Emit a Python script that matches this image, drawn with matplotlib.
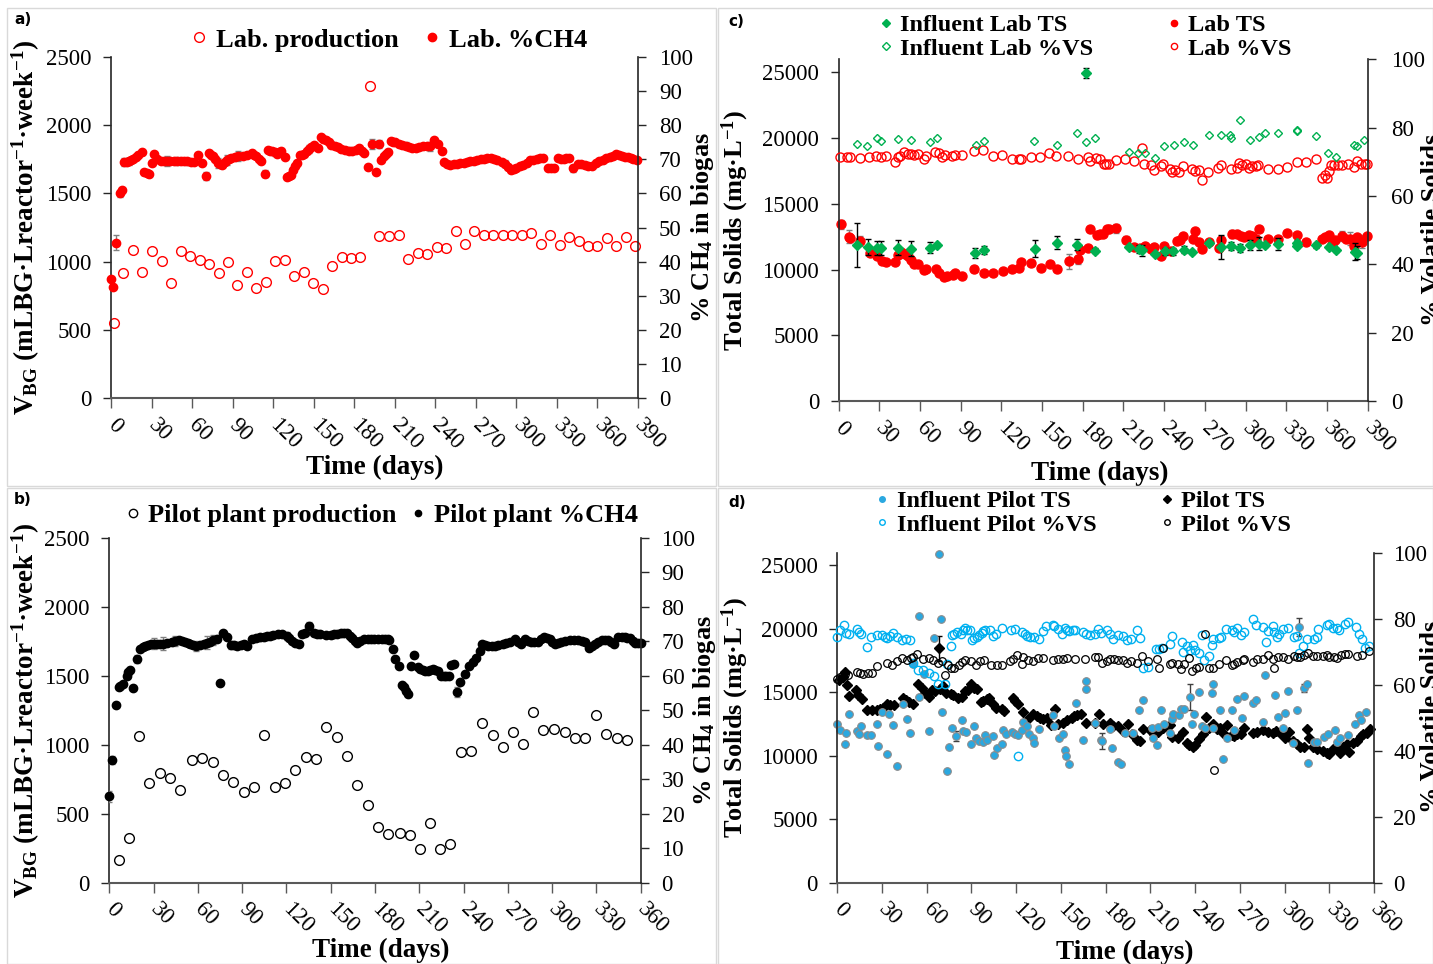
import matplotlib
matplotlib.use('Agg')
import matplotlib.pyplot as plt
from matplotlib.lines import Line2D
from matplotlib.patches import Rectangle
import numpy as np

plt.rcParams['font.family'] = ['Liberation Serif', 'DejaVu Serif']
plt.rcParams['mathtext.fontset'] = 'custom'
plt.rcParams['mathtext.rm'] = 'Liberation Serif:bold'
plt.rcParams['mathtext.bf'] = 'Liberation Serif:bold'
plt.rcParams['mathtext.it'] = 'Liberation Serif:bold'
plt.rcParams['mathtext.default'] = 'bf'

# ---------------- Panel a: lab biogas ----------------
lab_prod_day = [2.4, 9.1, 16.5, 23.3, 30.4, 37.4, 44.5, 51.6, 58.4, 65.5, 72.5, 79.6, 86.7, 93.5, 100.5,
                107.6, 114.4, 121.5, 128.5, 135.6, 142.7, 149.8, 156.9, 163.6, 170.7, 177.8, 184.5, 191.6,
                198.7, 205.8, 212.9, 220, 227, 234, 241, 248, 255, 262, 269, 276, 283, 290, 297, 304, 311,
                318, 325, 332, 339, 346, 353, 360, 367, 374, 381, 388]
lab_prod = [550, 916, 1087, 926, 1075, 1002, 843, 1075, 1038, 1012, 982, 916, 997, 831, 926,
            804, 853, 1007, 1012, 897, 926, 843, 799, 965, 1031, 1026, 1036, 2290,
            1188, 1188, 1197, 1021, 1065, 1058, 1107, 1102, 1227, 1127, 1227, 1193, 1193, 1197, 1193, 1197, 1212,
            1131, 1193, 1122, 1183, 1151, 1112, 1117, 1171, 1117, 1183, 1112]

lab_ch4_day = [0, 1.7, 3.7, 7, 8.4, 9.8, 11.5, 13, 14.8, 16.5, 18.3, 20, 22.6, 24.6, 26.3, 28, 30, 32, 34,
               36.8, 39, 41.5, 44, 46.5, 49, 51.5, 54, 56.5, 59, 61.7, 64.4, 67, 70, 72.5, 74, 75.6, 77.3,
               79, 80.5, 82, 84, 85.7, 87.5, 89, 91.5, 94, 97.5, 101, 104, 106, 107.6, 109.5, 111, 114,
               116, 117.8, 119.4, 121, 122.8, 124.5, 126, 128.5, 130, 131.5, 133, 135, 136.5, 138, 139.7,
               141.5, 143, 145, 146.4, 148, 150, 153, 155.5, 157, 159, 161, 163, 165.5, 168, 170.5, 173,
               176, 178.5, 181, 183.5, 185.5, 187, 190, 193, 196, 198, 200, 202, 203.5, 205, 207, 209,
               210.5, 213, 215.6, 218, 220.6, 223, 225.7, 228, 230.8, 233.5, 236, 239, 242, 244.6, 246.6,
               249, 251, 253.5, 256, 258.5, 261, 263.5, 266, 268.5, 271, 273.5, 276, 278.5, 281, 283.5,
               286, 289, 291.5, 294, 296, 298, 300, 302.5, 305, 307.5, 310, 312.5, 315, 317.5, 320, 323.5,
               325.5, 327.6, 331, 333, 335, 337, 338.7, 342, 345.5, 348, 350.5, 353, 355.6, 359, 361.5,
               364, 366.5, 369, 371.5, 374, 376, 378, 380.5, 382.6, 384.5, 386, 389]
lab_ch4 = [34.9, 32.5, 45.6, 60, 61, 69.2, 69.3, 69.4, 69.8, 70, 70.6, 71.4, 72, 66.2, 65.9, 65.8, 69, 71.6, 70,
           69.4, 69.4, 69.4, 69.4, 69.4, 69.4, 69.4, 69.4, 69.4, 69.3, 69.3, 71.3, 69, 65, 71.8, 71.2, 70.9, 70,
           69, 68.6, 68.4, 69.2, 69.9, 70.2, 70.4, 70.6, 70.9, 71.1, 71.4, 71.8, 71.3, 70.9, 70.2, 69.4, 65.8,
           72.8, 72.5, 72.3, 72, 71.6, 72, 72.3, 70.7, 64.7, 65.1, 65.5, 67, 68, 69, 71.2,
           71.4, 71.6, 72.3, 73.1, 73.7, 74.3, 73.3, 76.5, 76, 75.6, 75, 74.3, 73.9, 73.5, 73.1, 72.8,
           72.5, 72.3, 72.8, 73.3, 72.5, 71.8, 67.7, 74.5, 66.4, 74.5, 69.9, 70.9, 71.5, 72.1, 75.3, 75.2,
           75, 74.6, 74.3, 74, 73.6, 73.4, 73.3, 73.6, 74, 73.9, 73.8, 75.8, 74.5, 72.3, 69.1,
           68.7, 68.4, 68.5, 68.7, 68.8, 68.9, 69.1, 69.4, 69.6, 69.9, 70, 70.1, 70.3, 70.4, 70.1,
           69.7, 69.2, 68.7, 67.8, 67, 67.2, 67.4, 67.9, 68.4, 69, 69.7, 69.9, 70.1, 70.3, 70.4, 67.4,
           67.4, 67.4, 70.4, 70.2, 70.1, 70.3, 70.4, 67.4, 68.7, 68.6, 68.4, 68.1, 67.9, 68.9, 69.4,
           69.9, 70.3, 70.7, 71.1, 71.6, 71.2, 70.9, 70.8, 70.7, 70.4, 70.1, 69.7]
lab_ch4_err_day = [3.7, 7, 9.8, 13, 24.6, 41.5, 49, 56.5, 70, 79, 85.7, 94, 114, 121, 146.4, 163, 176, 193,
                   198, 218, 236, 251, 266, 276, 291.5, 342]
lab_ch4_err_val = [45.6, 60, 69.2, 69.4, 66.2, 69.4, 69.4, 69.4, 65, 69, 69.9, 70.9, 65.8, 72, 73.1, 74.3,
                   72.5, 74.5, 74.5, 74, 73.8, 68.4, 69.4, 70.1, 68.7, 67.4]
lab_ch4_err = [2.3, 1.0, 1.2, 1.0, 0.8, 1.5, 1.2, 1.0, 1.2, 1.5, 1.5, 1.5, 1.0, 1.0, 1.2, 1.0, 1.0, 1.5,
               1.2, 1.0, 1.3, 1.0, 1.0, 1.0, 1.0, 1.0]

# ---------------- Panel b: pilot biogas ----------------
pilot_prod_day = [6.3, 13.6, 20.4, 27.2, 34.6, 41.2, 48.2, 55.7, 62.7, 70, 77, 83.5, 91, 97.8, 104.6,
                  112, 118.9, 125.9, 133, 140, 147, 154, 161.2, 168, 175.2, 182.3, 188.8, 196.6, 203.4,
                  210.2, 217.4, 224.2, 231, 238.4, 245.2, 252.3, 259.7, 266.5, 273.3, 280.5, 287.3, 294.1,
                  301.6, 308.4, 315.2, 322.6, 329.7, 336.7, 343.7, 350.5]
pilot_prod = [165, 327, 1062, 724, 794, 757, 670, 886, 907, 874, 777, 733, 658, 697, 1067,
              697, 724, 816, 910, 900, 1130, 1058, 917, 707, 564, 402, 353, 358, 344,
              242, 436, 244, 278, 944, 956, 1154, 1067, 983, 1094, 1004, 1239, 1106,
              1116, 1091, 1048, 1048, 1215, 1079, 1048, 1031]

pilot_ch4_day = [0, 1.8, 4.5, 6.3, 7.5, 9, 11.8, 13, 14, 15.8, 18.6, 20.8, 22.5, 24.2, 26.5, 28.5, 30, 32.5,
                 34.5, 36.7, 39, 42.3, 44.5, 46.9, 49, 51, 53, 55, 57, 58.9, 61.5, 63.9, 66, 68.4, 70.5, 73,
                 75.2, 77, 79.7, 82.4, 84.5, 86.5, 89, 91, 93.3, 96.7, 99.5, 102.3, 104.5, 106.9, 109, 111,
                 114, 117, 120.4, 122, 123.8, 126, 128.4, 130.6, 132.9, 135.4, 138.5, 141, 143, 146.5,
                 149.9, 152, 154.4, 157, 159, 161.2, 163, 164.6, 166.5, 168, 170, 172.5, 175, 177, 179.3,
                 182, 184.5, 186.5, 188.5, 189.6, 191.9, 193.7, 196.4, 198, 199.7, 201, 202.5, 204.3,
                 206.1, 208.8, 210.5, 212.2, 214, 215.6, 217.5, 219, 220.8, 222.4, 224.7, 226.5, 228.1,
                 230.3, 231.5, 233.8, 235.6, 237.8, 241, 244, 246.2, 248.5, 250.8, 252.6, 254.5, 256.5,
                 259, 261, 263.5, 266.6, 269, 271.2, 274.6, 277, 279.1, 281.4, 283.5, 285.9, 288, 290.5,
                 292.5, 294.5, 296.5, 298.4, 300, 301.8, 304, 306.3, 309, 312, 315, 317.7, 320, 322.2,
                 324.9, 327, 329, 331, 333.5, 336, 338, 340, 342.1, 344.8, 347, 349.4, 351, 352.8, 354.5,
                 356.2, 358.5, 360]
pilot_ch4 = [25.0, 35.6, 51.4, 56.6, 57, 57.5, 60, 61, 61.7, 56.3, 64.9, 67.8, 68.2, 68.5, 68.8, 69.1, 69.3, 69.3,
             69.3, 69.3, 69.5, 69.7, 70, 70.3, 70, 69.7, 69.5, 69.2, 68.9, 68.7, 69, 69.3, 69.6, 69.9, 70.3, 70.7,
             57.9, 72.4, 71.2, 68.9, 68.8, 68.7, 68.9, 69.1, 68.5, 70.5, 70.9, 71.2, 71.3, 71.4, 71.6, 71.8,
             72, 72.2, 71.6, 70.9, 70.1, 69.6, 69.1, 72.2, 72.4, 74.5, 72.4, 72.2, 72, 71.9,
             71.8, 72, 72.2, 72.3, 72.4, 72.4, 71.6, 70.9, 70.1, 69.5, 70.2, 70.7, 70.6, 70.6, 70.5,
             70.7, 70.7, 70.7, 70.7, 70.3, 67.8, 64.9, 62.7, 57.4, 56.7, 55.5, 54.6, 62.9,
             66.1, 62.5, 62, 61.6, 61.4, 61.3, 61.7, 62, 61.7, 61.3, 60, 59.9, 59.8,
             59.8, 63.1, 63.4, 55.2, 58.3, 60.6, 62.7, 63.9, 65.2, 67.1, 69.3, 69, 68.7,
             68.7, 68.7, 69, 69.3, 69.5, 69.7, 70.5, 69.8, 69.1, 70.5, 70.2, 69.9, 69.9, 69.9,
             70.5, 71.2, 70.9, 70.5, 69.8, 69.1, 69.5, 69.9, 70.1, 70.3, 70.3, 70.3, 70.1, 69.9,
             68, 68.7, 69.3, 69.8, 70.3, 70.3, 70.3, 69.7, 69.1, 71.1, 71.1, 71.1, 71, 70.9, 70.2,
             69.5, 69.5, 69.5]
pilot_ch4_err_day = [0, 1.8, 18.6, 30, 36.7, 44.5, 58.9, 66, 70.5, 82.4, 91, 102.3, 111, 120.4, 135.4, 141,
                     149.9, 157, 235.6]
pilot_ch4_err_val = [25.0, 35.6, 64.9, 69.3, 69.3, 70, 68.7, 69.6, 70.3, 68.9, 69.1, 71.2, 71.8, 71.6, 74.5,
                     72.2, 71.8, 72.3, 55.2]
pilot_ch4_err = [1.5, 1.2, 1.2, 1.5, 1.8, 1.5, 1.5, 1.8, 1.5, 1.2, 1.0, 1.0, 1.0, 1.2, 1.2, 1.0, 1.0, 1.0, 1.5]

# ---------------- Panel c: lab solids ----------------
lab_ts_day = [2, 7.4, 8.6, 16, 22.9, 28.3, 32, 35.2, 42, 43.8, 46, 49.2, 50.9, 53.4, 55.3, 58.3, 62.7, 64.7,
              72, 73.8, 77.5, 79.9, 84.3, 86.1, 91, 99.6, 107, 113.8, 121, 128.1, 133, 134.7, 141.9, 149.2,
              155.9, 160.8, 169.7, 176.5, 177.8, 183.7, 185.6, 190.6, 193, 195, 198, 199.7, 204.6, 212,
              217.6, 222.5, 225.7, 230.4, 232.9, 237.8, 239.8, 245.2, 249.2, 251.6, 254.1, 261, 263.1,
              265.9, 268.1, 273, 280.6, 282.1, 289.7, 293.9, 296.4, 298.8, 302.5, 305, 307.9, 309.9, 316.9,
              324.2, 330.9, 338.3, 344.9, 356.5, 358.7, 361.6, 363.6, 366.1, 370.8, 374, 377.2, 380.1,
              382.1, 385.8, 389.5]
lab_ts = [13452, 12486, 12410, 12181, 11265, 11062, 10655, 10604, 10604, 11087, 11342, 11164, 11011, 10706,
          10400, 10400, 9943, 10019, 10019, 9740, 9435, 9486, 9562, 9740, 9486, 10045, 9765, 9765, 9918, 10070,
          10121, 10579, 10503, 10147, 10426, 10019, 10630, 10782, 11469, 11647, 13071, 12613, 12740, 12690,
          13096, 13096, 13147, 12283, 11723, 11673, 11800, 11571, 11723, 11037, 11774, 11418, 12181, 12232,
          12562, 12359, 12943, 12105, 11546, 12079, 11622, 12232, 12690, 12690, 12588, 12486, 12664, 12562,
          12359, 13096, 12308, 12359, 12817, 12664, 12130, 12359, 12486, 12613, 11978, 12232, 12537, 12359,
          12359, 11774, 12486, 12105, 12562]
lab_ts_err_day = [2, 7.4, 16, 99.6, 169.7, 176.5, 204.6, 212, 289.7, 370.8, 377.2, 385.8]
lab_ts_err_val = [13452, 12486, 12181, 10045, 10630, 10782, 13147, 12283, 12690, 12537, 12359, 12105]
lab_ts_err = [350, 500, 400, 250, 550, 350, 350, 250, 300, 400, 500, 500]

inf_lab_ts_day = [14, 21.4, 28.3, 31.2, 44, 53.1, 67.1, 72.3, 100.8, 107.2, 144.6, 161, 176, 182.4, 189.3,
                  214.2, 221.3, 224, 233.1, 240.3, 246.4, 254.5, 260.9, 273.2, 281.8, 289, 295.8, 303.2,
                  309.8, 314.7, 324.2, 337.8, 338.3, 351.8, 361.2, 366.6, 380.6, 382.1]
inf_lab_ts = [11876, 11723, 11647, 11622, 11673, 11596, 11673, 11901, 11265, 11469, 11596, 12054, 11901,
              24946, 11443, 11723, 11546, 11469, 11215, 11393, 11393, 11520, 11316, 12028, 11723, 11825,
              11673, 11876, 11978, 11876, 11927, 12028, 11800, 11851, 11723, 11520, 11342, 11291]
inf_lab_ts_err = [1700, 600, 500, 550, 550, 550, 400, 100, 350, 300, 650, 500, 400, 400, 200, 100, 300, 400,
                  100, 250, 250, 250, 100, 100, 900, 300, 300, 400, 500, 150, 450, 250, 150, 200, 150, 150,
                  650, 500]

inf_lab_vs_day = [14, 21.1, 28.3, 31.2, 44, 53.4, 67.1, 72.3, 101, 107.2, 144.3, 161, 176, 182.2, 189.3,
                  214.2, 220.8, 226.2, 233.1, 239.8, 247.1, 254.5, 261.1, 273.2, 282.3, 288.4, 289.4, 296,
                  303.2, 309.8, 314.7, 324.3, 337.6, 338.3, 352.1, 361, 366.4, 379.9, 381.9, 387.3]
inf_lab_vs = [75.2, 74.7, 76.9, 76.2, 76.7, 76.3, 75.9, 77.1, 75, 76.1, 76.1, 75, 78.3, 75.7, 77.1,
              72.8, 72.6, 72.5, 71.1, 74.6, 74.8, 75.7, 75, 77.9, 77.7, 77.9, 76.9, 82.1,
              76.3, 77.2, 78.5, 78.5, 79, 79.3, 77.6, 72.6, 71.3, 75, 74.6, 76.5]

lab_vs_day = [1.2, 6.6, 8.6, 15.5, 22.6, 27.8, 31.2, 34.7, 41.8, 43.8, 45.7, 48.4, 51.1, 53.1, 55.8, 58.3,
              62.7, 64.7, 71.3, 74, 76.5, 78.7, 83.6, 85.8, 90.7, 99.6, 106.7, 113.8, 120.7, 127.9, 133,
              134.5, 141.6, 148.8, 155.4, 160.6, 169.4, 176.5, 183.7, 185.6, 190, 193, 195.5, 197.5, 199.2,
              204.4, 211.5, 217.7, 223.8, 225.1, 230.5, 232.4, 237.4, 239.3, 244, 246, 248.4, 251.3, 254.1,
              260.5, 262.9, 265.6, 267.8, 272.7, 279.6, 281.6, 289.2, 293.6, 295.1, 297.6, 300, 302.5, 305,
              307.4, 309.4, 316.8, 323.9, 330.6, 337.7, 344.4, 351.8, 356.7, 358.4, 360.4, 361.8, 362.8,
              365.3, 368.2, 370.9, 375.6, 380, 382, 385, 388.2, 389.6]
lab_vs = [71.5, 71.5, 71.3, 71, 71.3, 71.7, 71.5, 71.7, 69.9, 71.3, 71.7, 72.8, 72.4, 72.4, 71.9, 72.4,
          70.9, 71.7, 72.9, 72.6, 71.3, 72.1, 71.8, 72, 72, 73.2, 73.6, 71.8, 72, 70.9, 70.9,
          70.9, 71.5, 71.3, 72.6, 71.8, 71.8, 70.7, 71.5, 70.1, 71, 70.9, 69.5, 69.5, 69.5,
          70.5, 70.8, 70.1, 73.9, 69.5, 69, 67.5, 68.8, 69.5, 67.8, 67, 67.5, 67, 68.9,
          68, 67.4, 67.7, 64.8, 66.9, 68.3, 69, 68, 68.3, 69.7, 69.2, 69.5, 68.3, 68.9,
          68.9, 69.1, 67.8, 68, 68.6, 70, 69.9, 70.9, 65.3, 66.2, 65.3, 67.4, 69.2,
          69.2, 69.1, 69.2, 69.3, 68.5, 70.1, 69.5, 69.3, 69.3]

# ---------------- Panel d: pilot solids ----------------
inf_pilot_vs_day = [0, 1.8, 4.7, 5.8, 8, 13, 14.3, 16.1, 19.9, 22.8, 26.4, 30, 31.7, 33.5, 35.3, 37.1, 39.8,
                    43.6, 46.1, 49, 51, 54.3, 57.7, 61.7, 64.8, 67.3, 72.2, 73.8, 76, 76.9, 78.2, 80, 82.7, 84,
                    85.6, 86.7, 89, 90.5, 91.9, 93.4, 95.2, 96.8, 97.9, 99, 102.4, 104.2, 106.4, 110.2, 116.3,
                    119.2, 120.9, 123.6, 125.9, 127, 129.2, 131.9, 135.3, 137.7, 140, 144.4, 145.3, 148.2,
                    150.9, 152.7, 154.3, 155.6, 158.3, 159.6, 165, 166.8, 169.5, 172.8, 174.6, 176.6, 180.7,
                    182.9, 185.1, 188.5, 191.8, 194.5, 196.8, 200.8, 203, 205.2, 208.2, 213.8, 215.6, 217.6,
                    223.1, 224.5, 231, 232.1, 234.3, 236.5, 238.4, 239.9, 242.4, 244.4, 246.2, 249.5, 251.1,
                    252.2, 256.2, 257.1, 260.7, 264.7, 266, 267.8, 270.5, 272.8, 279, 280.8, 285.7, 287.3,
                    289.1, 292.5, 293.1, 294.7, 296.5, 299.2, 302.5, 306.3, 308.1, 309.9, 312.6, 314.8, 320,
                    322, 322.7, 328.3, 330.1, 332.8, 335, 336.6, 340.6, 342.8, 348, 350.2, 351.8, 354, 356.9]
inf_pilot_vs = [74.5, 76.7, 78, 75.7, 75.5, 76.9, 76, 75.3, 71.4, 74.4, 75.1, 75, 74.5, 74.1, 74.8, 75.8, 74.4,
                73.5, 73.7, 73.5, 66.6, 64.6, 64.6, 63.5, 62.7, 60.1, 60.1, 66.4, 71.6, 75.1, 75.3, 76, 75.5, 76.7,
                77.3, 76.7, 76.5, 73.5, 74.2, 74.5, 75.1, 75.7, 76.3, 76.7, 76.5, 74.9, 75.5, 77.2, 76.7,
                77, 38.3, 76.1, 75.5, 74.9, 74.5, 74.5, 73.9, 76.3, 77.7, 78.2, 77.7, 76.9,
                75.5, 77.3, 76.7, 76.3, 76.5, 76.5, 75.9, 75.3, 75.2, 75.3, 76.9, 75.8, 76.5,
                75.5, 74, 75.2, 74.7, 73.5, 73.8, 76.7, 74.2, 65, 65.3, 70.7, 70.8, 71.2,
                72.4, 74.7, 72.8, 70, 71.6, 70.4, 72, 70.6, 69.7, 75.1, 67.4, 68.6, 71.9,
                73.7, 74.1, 74.5, 77, 76.5, 76, 77.2, 75, 76.1, 79.9, 78.2, 77.5, 72.8,
                76.3, 77.7, 75.9, 74.5, 75.5, 77, 77.3, 74.5, 74.7, 69.6, 71.6, 73.9, 73.9,
                74.5, 77, 78.1, 78.3, 77.3, 77.3, 76.7, 78.3, 78.9, 77.5, 75.3, 73.7, 71.2, 71.6]

pilot_vs_day = [0, 1.8, 3.6, 5.1, 7.4, 13, 15.2, 17.4, 20.3, 23.5, 26.4, 33.5, 36.4, 39.8, 43.1, 46.5, 49.4,
                51, 53.7, 57.7, 61.3, 64.4, 67.7, 70.2, 72.2, 74.4, 76, 78.2, 81.8, 83.4, 85.6, 89.4, 92.8,
                95.7, 98.4, 103, 106.9, 110.2, 115.8, 117.6, 120.7, 123.9, 124.7, 128.1, 131.5, 134.8, 138.2,
                144.4, 148.2, 151.6, 153.8, 159.4, 166.1, 172.8, 174.6, 177.3, 180.7, 182.9, 185.6, 188.5,
                191.4, 194.5, 196.8, 200.8, 204.1, 208.6, 214.6, 216, 218.6, 223.1, 224.2, 228.7, 230.7,
                232.7, 236.1, 238.1, 240.3, 242.6, 246.6, 249.5, 251.8, 252.6, 256.2, 260.7, 264.5, 266,
                268.3, 271.9, 272.8, 278.6, 281.3, 285.7, 288.6, 292, 292.9, 295.8, 298.7, 302.5, 306.3,
                308.1, 310.3, 313, 315.9, 319.2, 321.5, 326, 328.2, 330, 333.1, 335.4, 337.6, 340.5, 342.8,
                348.4, 351.7, 356.9]
pilot_vs = [61.8, 62.3, 62.8, 63.1, 62.8, 63.8, 63.5, 63.3, 63.5, 63.5, 65.6, 66.6, 66.1, 67.2, 68.2, 67.6, 68.2,
            68.4, 69.2, 67.8, 68, 67.6, 66.6, 67.2, 62.8, 65.9, 65.1, 65, 65.9, 66.9, 67.4, 67.2, 65.9,
            67.2, 67.6, 65.9, 65.9, 66, 67.2, 67.8, 69.1, 66.4, 68.4, 67.6, 67.2, 68.2, 68.2,
            67.6, 67.8, 67.8, 68.2, 67.8, 67.8, 68.4, 68.4, 66.7, 67.2, 67.9, 67.9, 67.6,
            67.4, 66.6, 67.2, 66.6, 68.6, 67.2, 67.8, 65, 71, 66.2, 66.6, 66.2, 64.7,
            66.4, 68.2, 64.3, 65.1, 65.3, 75.5, 65.1, 65.1, 34.3, 66.4, 67.4, 65.9, 66.4,
            66.9, 67.6, 67.9, 66.9, 67.9, 67.9, 68.9, 67.9, 65.1, 68.4, 68.4, 67.9, 68.6,
            68.4, 68.4, 68.9, 69.6, 68.6, 68.6, 68.6, 68.9, 68.4, 68.4, 68.2, 68.9, 69.4, 69.2,
            68.6, 68.9, 70.2]

pilot_ts_day = [1.3, 3.6, 5.1, 6.3, 8, 12.5, 14.1, 16.3, 20.1, 23, 26.4, 28.6, 30.9, 33.5, 35.3, 38, 43.8,
                45.8, 48.1, 50.5, 54.3, 56.6, 58.8, 61.7, 63.3, 65.5, 68, 68.9, 71.1, 72.9, 76, 77.8, 80.7,
                83.4, 85.6, 87.9, 89.4, 91.9, 93.4, 96.1, 97.9, 100.2, 101.9, 104.6, 106.4, 110.2, 111.8,
                117.6, 119.2, 121.4, 124.3, 128.1, 131.5, 133.7, 135.9, 138.2, 140.9, 143.1, 146, 148.2,
                151.6, 154.3, 157.2, 158.7, 160.5, 163.2, 166.8, 172.8, 175.7, 178.4, 182.9, 185.1, 188.5,
                191.4, 195, 197.7, 201.3, 203, 205.2, 209.7, 212.4, 215.3, 218.2, 220, 223.1, 224.2, 228.7,
                231.6, 234.3, 236.1, 238.4, 239.9, 242.8, 245.1, 247.3, 249.5, 251.8, 254.5, 256.7, 258.5,
                261.6, 264.5, 266, 267.8, 270.5, 272.8, 279, 281.3, 285.7, 289, 292, 294.2, 296.9, 298.7,
                300.3, 303.2, 305.8, 308.1, 310.3, 313, 315.2, 316.5, 319.2, 321.9, 325.5, 328.2, 330,
                332.6, 335.3, 337.1, 339.4, 341.6, 343.4, 345.6, 348.4, 351, 352.8, 355.1, 357.3]
pilot_ts = [15940, 16202, 16596, 15572, 14706, 15152, 14784, 14443, 13603, 13603, 13603, 13708, 13787, 14049,
            13971, 13971, 14522, 14364, 14207, 14049, 15677, 15362, 14968, 14627, 15152, 15099, 18461, 15231,
            15493, 14968, 14889, 14784, 14574, 14627, 15099, 15152, 15677, 15309, 15231, 14233, 14312, 14469,
            14574, 14049, 13787, 13655, 13524, 14574, 14312, 14102, 13472, 12867, 13261, 13130, 12999, 12867,
            12999, 12421, 13708, 12474, 12605, 12789, 12999, 13130, 13209, 13261, 12605, 12605, 13261, 12526,
            12605, 12342, 12342, 11948, 12526, 11738, 11213, 11161, 12080, 12001, 11738, 11896, 12211, 12342,
            12421, 11476, 11423, 11896, 11029, 10845, 10688, 10845, 11292, 11686, 13051, 12211, 12474, 12080,
            12211, 11817, 12421, 11633, 11554, 11738, 11686, 12211, 11817, 11896, 12001, 11896, 11817, 11948,
            11817, 11633, 11423, 11896, 11161, 10950, 10688, 10688, 12080, 11371, 10688, 10504, 10373, 10241,
            10163, 10504, 10635, 10241, 10688, 10898, 10320, 11029, 11161, 11554, 11686, 11817, 12080]
pilot_ts_err_day = [68]
pilot_ts_err_val = [18461]
pilot_ts_err = [1000]

inf_pilot_ts_day = [0, 1.8, 4.9, 5.8, 8, 13, 14.3, 16.1, 19.9, 22.8, 26.4, 27.1, 30, 33.5, 34.4, 37.6, 39.8,
                    43.8, 46.9, 48.7, 51, 55, 55, 58.1, 61.3, 65.1, 68, 69.5, 70.2, 73.8, 75.1, 76.7, 79.4,
                    83.4, 84.5, 86.3, 89.4, 91.9, 93, 95.2, 97.5, 99, 100.2, 104.2, 105.1, 107.3, 110.2, 111.3,
                    113.1, 117.1, 119.2, 121.4, 123.6, 124.7, 127, 128.8, 131, 131.9, 135.5, 144.4, 145.3,
                    148.9, 151.6, 152.7, 153.4, 155.6, 160.1, 165, 166.8, 166.8, 172.8, 176.6, 177.3, 182.9,
                    184, 188.5, 190.1, 193, 198.6, 202.6, 204.8, 210.9, 212, 214.6, 215.3, 217.1, 219.1, 223.1,
                    224.2, 225.3, 229.1, 230.8, 232.4, 236.5, 237.6, 239.2, 242.8, 244.4, 246.8, 251.1, 251.8,
                    252.2, 256.7, 258.9, 261.2, 265, 266.1, 267.9, 271.2, 272.8, 279, 280.8, 285.7, 286.8,
                    293.5, 295.8, 298.7, 300.3, 302.5, 305.8, 308.1, 309.9, 313, 314.8, 315.9, 320, 322, 326.5,
                    329.4, 333.9, 335.4, 337.2, 342.8, 347.3, 350.2, 351.3, 354.6]
inf_pilot_ts = [12526, 12001, 10950, 11817, 13261, 11948, 11738, 12316, 11633, 11633, 12526, 10767, 13471,
                10110, 13261, 12421, 9165, 14102, 12920, 11765, 17253, 21008, 14627, 16413, 11948, 19249,
                25866, 20772, 13445, 8771, 10714, 12211, 11554, 12815, 11948, 11896, 10898, 12342, 11371,
                11161, 11055, 11633, 11213, 11528, 10058, 10583, 10950, 12001, 11738, 11896, 11686, 11633,
                12027, 12657, 12342, 11738, 11423, 11029, 12106, 13183, 12342, 11423, 11686, 10425, 9979,
                9375, 14180, 11213, 15887, 15283, 12605, 11213, 11161, 12080, 10583, 9532, 9375, 11765,
                11817, 13576, 14364, 12158, 11371, 10845, 12263, 13576, 12474, 11817, 12867, 13261, 13209,
                13655, 13655, 14627, 12526, 13314, 15020, 12342, 12158, 14916, 15677, 12158, 13576, 9769,
                11371, 13576, 12001, 14495, 12946, 14679, 14180, 14416, 12684, 16360, 14758, 13078, 12158,
                13366, 15099, 11003, 13576, 20168, 15362, 15677, 9454, 11055, 11055, 11476, 11686, 12053,
                11108, 11371, 11633, 12526, 13209, 12789, 13472]
inf_pilot_ts_err_day = [79.4, 177.3, 236.5, 309.9, 313]
inf_pilot_ts_err_val = [11554, 11161, 14627, 20168, 15362]
inf_pilot_ts_err = [400, 600, 1000, 700, 300]

# ---------------- figure ----------------
W, H = 1433, 964
fig = plt.figure(figsize=(W / 100, H / 100), dpi=100)

for (x0, y0, x1, y1) in [(7, 8, 716, 486), (718, 8, 1433, 486), (7, 488, 716, 964), (718, 488, 1433, 964)]:
    fig.add_artist(Rectangle((x0 / W, 1 - y1 / H), (x1 - x0) / W, (y1 - y0) / H, transform=fig.transFigure,
                             fill=False, edgecolor='#d9d9d9', lw=1.0))


def make_axes(l, r, t, b):
    ax = fig.add_axes([l / W, 1 - b / H, (r - l) / W, (b - t) / H])
    ax2 = ax.twinx()
    return ax, ax2


def style(ax, ax2, xmax, ylim_l, yticks_l, yticks_r, rpad=9):
    ax.set_xlim(0, xmax)
    ax.set_ylim(0, ylim_l)
    ax2.set_ylim(0, 100)
    ax.set_xticks(np.arange(0, xmax + 1, 30))
    ax.set_yticks(yticks_l)
    ax2.set_yticks(yticks_r)
    for a in (ax, ax2):
        a.spines['top'].set_visible(False)
    ax.spines['right'].set_visible(False)
    ax2.spines['left'].set_visible(False)
    ax2.spines['bottom'].set_visible(False)
    ax.spines['left'].set_color('#262626')
    ax2.spines['right'].set_color('#262626')
    ax.spines['bottom'].set_color('#595959')
    ax.spines['left'].set_linewidth(1.2)
    ax2.spines['right'].set_linewidth(1.2)
    ax.spines['bottom'].set_linewidth(1.5)
    ax.tick_params(axis='y', direction='out', length=6, width=1, labelsize=16.5, colors='#262626',
                   labelcolor='black', pad=8)
    ax2.tick_params(axis='y', direction='out', length=6, width=1, labelsize=16.5, colors='#262626',
                    labelcolor='black', pad=rpad)
    ax.tick_params(axis='x', direction='out', length=7, width=1, labelsize=16.5, colors='#595959',
                   labelcolor='black', pad=10)
    for lab in ax.get_xticklabels():
        lab.set_rotation(-45)
        lab.set_ha('left')
        lab.set_va('center')
        lab.set_rotation_mode('anchor')


LBL = dict(fontsize=19.5, fontweight='bold')
LBL2 = dict(fontsize=19, fontweight='bold')

# ---- a ----
ax, ax2 = make_axes(111, 638, 57, 398)
style(ax, ax2, 390, 2500, np.arange(0, 2501, 500), np.arange(0, 101, 10))
ax.plot(lab_prod_day, lab_prod, ls='none', marker='o', ms=7, mfc='none', mec='#ff0000', mew=1.0, clip_on=False)
ax2.errorbar(lab_ch4_err_day, lab_ch4_err_val, yerr=lab_ch4_err, fmt='none', ecolor='#808080', elinewidth=1,
             capsize=2.5, capthick=1)
ax2.plot(lab_ch4_day, lab_ch4, ls='none', marker='o', ms=6, mfc='#ff0000', mec='#ff0000', clip_on=False)
ax.set_ylabel(r'V$_{BG}$ (mLBG·Lreactor$^{-1}$·week$^{-1}$)', **LBL)
ax.yaxis.set_label_coords(-0.131, 0.5)
ax2.set_ylabel(r'% CH$_4$ in biogas', **LBL2)
ax2.yaxis.set_label_coords(1.097, 0.5)
ax.set_xlabel('Time (days)', **LBL)
ax.xaxis.set_label_coords(0.501, -0.167)
fig.legend([Line2D([], [], ls='none', marker='o', ms=7, mfc='none', mec='#ff0000', mew=1),
            Line2D([], [], ls='none', marker='o', ms=6, mfc='#ff0000', mec='#ff0000')],
           ['Lab. production', 'Lab. %CH4'], loc='center', bbox_to_anchor=(387 / W, 1 - 40 / H), ncol=2,
           frameon=False, prop={'weight': 'bold', 'size': 19}, handletextpad=0.2, columnspacing=0.8,
           handlelength=0.9, borderpad=0)
fig.text(14 / W, 1 - 20 / H, 'a)', fontsize=11, fontweight='bold', family='DejaVu Sans', va='center')

# ---- b ----
ax, ax2 = make_axes(109.3, 640.7, 537.7, 882.7)
style(ax, ax2, 360, 2500, np.arange(0, 2501, 500), np.arange(0, 101, 10))
ax.plot(pilot_prod_day, pilot_prod, ls='none', marker='o', ms=7, mfc='none', mec='black', mew=1.0, clip_on=False)
ax2.errorbar(pilot_ch4_err_day, pilot_ch4_err_val, yerr=pilot_ch4_err, fmt='none', ecolor='#808080',
             elinewidth=1, capsize=2.5, capthick=1)
ax2.plot(pilot_ch4_day, pilot_ch4, ls='none', marker='o', ms=6, mfc='black', mec='black', clip_on=False)
ax.set_ylabel(r'V$_{BG}$ (mLBG·Lreactor$^{-1}$·week$^{-1}$)', **LBL)
ax.yaxis.set_label_coords(-0.127, 0.5)
ax2.set_ylabel(r'% CH$_4$ in biogas', **LBL2)
ax2.yaxis.set_label_coords(1.095, 0.5)
ax.set_xlabel('Time (days)', **LBL)
ax.xaxis.set_label_coords(0.51, -0.16)
fig.legend([Line2D([], [], ls='none', marker='o', ms=6, mfc='none', mec='black', mew=1),
            Line2D([], [], ls='none', marker='o', ms=4.5, mfc='black', mec='black')],
           ['Pilot plant production', 'Pilot plant %CH4'], loc='center', bbox_to_anchor=(380 / W, 1 - 515 / H),
           ncol=2, frameon=False, prop={'weight': 'bold', 'size': 19}, handletextpad=0.2, columnspacing=0.4,
           handlelength=0.8, borderpad=0)
fig.text(14 / W, 1 - 499 / H, 'b)', fontsize=11, fontweight='bold', family='DejaVu Sans', va='center')

# ---- c ----
GREEN = '#00B050'
ax, ax2 = make_axes(838.5, 1367.6, 59.3, 401)
style(ax, ax2, 390, 26000, np.arange(0, 25001, 5000), np.arange(0, 101, 20), rpad=11)
ax2.plot(lab_vs_day, lab_vs, ls='none', marker='o', ms=6.5, mfc='none', mec='#ff0000', mew=1.0, clip_on=False)
ax2.plot(inf_lab_vs_day, inf_lab_vs, ls='none', marker='D', ms=4.5, mfc='none', mec=GREEN, mew=1.0, clip_on=False)
ax.errorbar(lab_ts_err_day, lab_ts_err_val, yerr=lab_ts_err, fmt='none', ecolor='#808080', elinewidth=1,
            capsize=2.5, capthick=1)
ax.plot(lab_ts_day, lab_ts, ls='none', marker='o', ms=6.5, mfc='#ff0000', mec='#ff0000', clip_on=False)
ax.errorbar(inf_lab_ts_day, inf_lab_ts, yerr=inf_lab_ts_err, fmt='none', ecolor='black', elinewidth=1,
            capsize=2.5, capthick=1)
ax.plot(inf_lab_ts_day, inf_lab_ts, ls='none', marker='D', ms=5, mfc=GREEN, mec=GREEN, clip_on=False)
ax.set_ylabel(r'Total Solids (mg·L$^{-1}$)', **LBL2)
ax.yaxis.set_label_coords(-0.165, 0.5)
ax.set_xlabel('Time (days)', **LBL)
ax.xaxis.set_label_coords(0.494, -0.176)
fig.text(1421 / W, 1 - 230 / H, '% Volatile Solids', rotation=90, ha='left', va='center', **LBL2)
fig.legend([Line2D([], [], ls='none', marker='D', ms=4, mfc=GREEN, mec=GREEN),
            Line2D([], [], ls='none', marker='D', ms=4, mfc='none', mec=GREEN, mew=1),
            Line2D([], [], ls='none', marker='o', ms=4.5, mfc='#ff0000', mec='#ff0000'),
            Line2D([], [], ls='none', marker='o', ms=4.5, mfc='none', mec='#ff0000', mew=1)],
           ['Influent Lab TS', 'Influent Lab %VS', 'Lab TS', 'Lab %VS'], loc='center',
           bbox_to_anchor=(1085 / W, 1 - 37 / H), ncol=2, frameon=False, prop={'weight': 'bold', 'size': 17.5},
           handletextpad=0.3, columnspacing=3.0, handlelength=0.6, labelspacing=0.05, borderpad=0)
fig.text(728 / W, 1 - 22 / H, 'c)', fontsize=11, fontweight='bold', family='DejaVu Sans', va='center')

# ---- d ----
BLUE = '#2AA8E0'
BLUE_O = '#00B0F0'
ax, ax2 = make_axes(837.3, 1374, 552.7, 882.7)
style(ax, ax2, 360, 26000, np.arange(0, 25001, 5000), np.arange(0, 101, 20), rpad=8)
ax2.plot(inf_pilot_vs_day, inf_pilot_vs, ls='none', marker='o', ms=6, mfc='none', mec=BLUE_O, mew=1.0,
         clip_on=False)
ax2.plot(pilot_vs_day, pilot_vs, ls='none', marker='o', ms=5.5, mfc='none', mec='black', mew=0.9, clip_on=False)
ax.errorbar(inf_pilot_ts_err_day, inf_pilot_ts_err_val, yerr=inf_pilot_ts_err, fmt='none', ecolor='#404040',
            elinewidth=1, capsize=2.5, capthick=1)
ax.errorbar(pilot_ts_err_day, pilot_ts_err_val, yerr=pilot_ts_err, fmt='none', ecolor='black',
            elinewidth=1, capsize=2.5, capthick=1)
ax.plot(pilot_ts_day, pilot_ts, ls='none', marker='D', ms=5, mfc='black', mec='black', clip_on=False)
ax.plot(inf_pilot_ts_day, inf_pilot_ts, ls='none', marker='o', ms=5.5, mfc=BLUE, mec='#8c8c8c', mew=0.8,
        clip_on=False)
ax.set_ylabel(r'Total Solids (mg·L$^{-1}$)', **LBL2)
ax.yaxis.set_label_coords(-0.161, 0.5)
ax.set_xlabel('Time (days)', **LBL)
ax.xaxis.set_label_coords(0.536, -0.174)
fig.text(1420 / W, 1 - 717 / H, '% Volatile Solids', rotation=90, ha='left', va='center', **LBL2)
fig.legend([Line2D([], [], ls='none', marker='o', ms=4, mfc=BLUE, mec=BLUE),
            Line2D([], [], ls='none', marker='o', ms=4, mfc='none', mec=BLUE_O, mew=1),
            Line2D([], [], ls='none', marker='D', ms=4, mfc='black', mec='black'),
            Line2D([], [], ls='none', marker='o', ms=4, mfc='none', mec='black', mew=1)],
           ['Influent Pilot TS', 'Influent Pilot %VS', 'Pilot TS', 'Pilot %VS'], loc='center',
           bbox_to_anchor=(1083 / W, 1 - 513 / H), ncol=2, frameon=False, prop={'weight': 'bold', 'size': 17.5},
           handletextpad=0.3, columnspacing=2.6, handlelength=0.6, labelspacing=0.05, borderpad=0)
fig.text(728 / W, 1 - 502 / H, 'd)', fontsize=11, fontweight='bold', family='DejaVu Sans', va='center')

fig.savefig('out.png', dpi=100)
